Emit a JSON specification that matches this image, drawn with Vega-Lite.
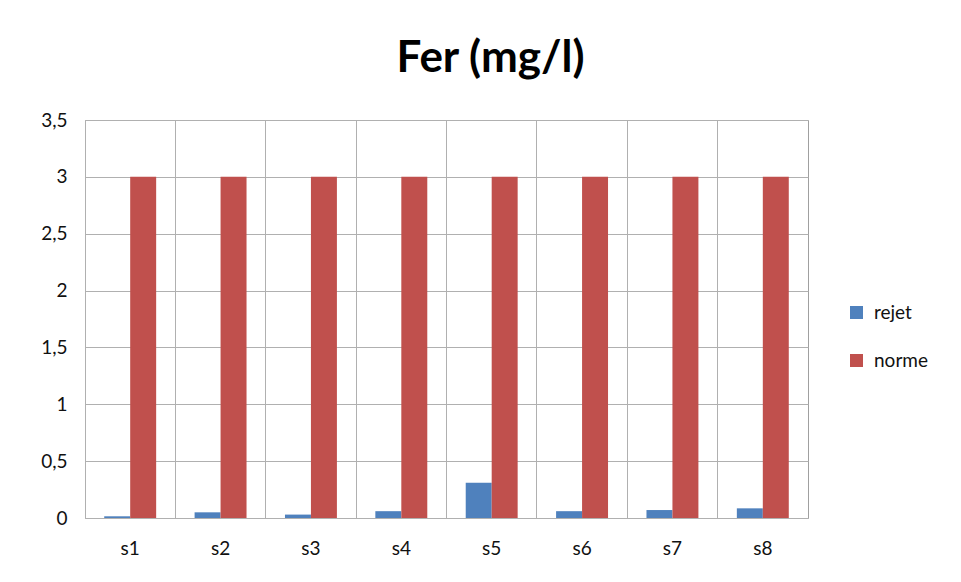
{
  "$schema": "https://vega.github.io/schema/vega-lite/v6.json",
  "width": 723,
  "height": 398,
  "autosize": {"type": "none"},
  "padding": {"left": 85, "top": 120, "right": 153, "bottom": 64},
  "background": "white",
  "title": {
    "text": "Fer (mg/l)",
    "font": "Lato",
    "fontSize": 44,
    "fontWeight": "bold",
    "color": "#000000",
    "anchor": "middle",
    "dx": 44,
    "offset": 30
  },
  "data": {
    "values": [
      {"site": "s1", "serie": "rejet", "valeur": 0.015},
      {"site": "s1", "serie": "norme", "valeur": 3},
      {"site": "s2", "serie": "rejet", "valeur": 0.05},
      {"site": "s2", "serie": "norme", "valeur": 3},
      {"site": "s3", "serie": "rejet", "valeur": 0.03},
      {"site": "s3", "serie": "norme", "valeur": 3},
      {"site": "s4", "serie": "rejet", "valeur": 0.06},
      {"site": "s4", "serie": "norme", "valeur": 3},
      {"site": "s5", "serie": "rejet", "valeur": 0.31},
      {"site": "s5", "serie": "norme", "valeur": 3},
      {"site": "s6", "serie": "rejet", "valeur": 0.06},
      {"site": "s6", "serie": "norme", "valeur": 3},
      {"site": "s7", "serie": "rejet", "valeur": 0.07},
      {"site": "s7", "serie": "norme", "valeur": 3},
      {"site": "s8", "serie": "rejet", "valeur": 0.085},
      {"site": "s8", "serie": "norme", "valeur": 3}
    ]
  },
  "mark": {"type": "bar"},
  "encoding": {
    "x": {
      "field": "site",
      "type": "nominal",
      "sort": null,
      "scale": {"paddingInner": 0, "paddingOuter": 0},
      "axis": {
        "title": null,
        "labelAngle": 0,
        "grid": true,
        "bandPosition": 0,
        "gridColor": "#b0b0b0",
        "gridWidth": 1,
        "ticks": false,
        "domain": false,
        "labelFont": "Lato",
        "labelFontSize": 19,
        "labelColor": "#111111",
        "labelPadding": 21
      }
    },
    "xOffset": {
      "field": "serie",
      "type": "nominal",
      "sort": ["rejet", "norme"],
      "scale": {"paddingInner": 0, "paddingOuter": 0.74}
    },
    "y": {
      "field": "valeur",
      "type": "quantitative",
      "scale": {"domain": [0, 3.5], "nice": false},
      "axis": {
        "title": null,
        "values": [0, 0.5, 1, 1.5, 2, 2.5, 3, 3.5],
        "labelExpr": "replace(toString(datum.value), '.', ',')",
        "grid": true,
        "gridColor": "#b0b0b0",
        "ticks": false,
        "domain": false,
        "labelFont": "Lato",
        "labelFontSize": 19,
        "labelColor": "#111111",
        "labelPadding": 18
      }
    },
    "color": {
      "field": "serie",
      "type": "nominal",
      "sort": ["rejet", "norme"],
      "scale": {"domain": ["rejet", "norme"], "range": ["#4F81BD", "#C0504D"]},
      "legend": {
        "title": null,
        "orient": "none",
        "legendX": 762,
        "legendY": 183,
        "symbolType": "square",
        "symbolSize": 170,
        "symbolStrokeWidth": 0,
        "labelFont": "Lato",
        "labelFontSize": 19,
        "labelColor": "#111111",
        "rowPadding": 28,
        "labelOffset": 8
      }
    }
  },
  "config": {
    "view": {"stroke": "#a0a0a0", "strokeWidth": 1}
  }
}
